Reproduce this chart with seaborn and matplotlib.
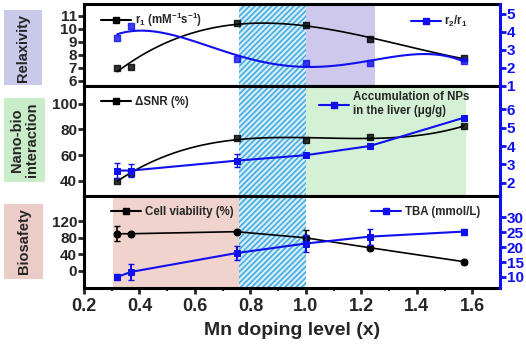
import numpy as np
import pandas as pd
import matplotlib
matplotlib.use('Agg')
import matplotlib.pyplot as plt
from matplotlib.lines import Line2D
from matplotlib.patches import Rectangle
import seaborn as sns

# Data
mn_level = [0.32, 0.37, 0.75, 1.00, 1.23, 1.57]

r1 = [7.0, 7.05, 10.4, 10.3, 9.2, 7.7]
r2_r1 = [3.67, 4.3, 2.5, 2.28, 2.28, 2.35]

dsnr = [40, 46, 73, 72, 74, 82.5]
liver_acc = [2.66, 2.66, 3.2, 3.5, 4.0, 5.55]
liver_err = [0.4, 0.35, 0.35, 0.12, 0.12, 0.12]

viability = [90, 90, 95, 80, 56, 22]
viability_err = [18, 4, 4, 18, 6, 5]
tba = [10.0, 11.7, 18.0, 21.2, 23.5, 25.2]
tba_err = [1.0, 2.7, 2.3, 3.0, 2.7, 1.0]

BLUE = '#1010ee'
HATCH = '#45aee0'

sns.set_theme(style='white')
plt.rcParams['font.family'] = ['Liberation Sans', 'DejaVu Sans']
plt.rcParams['font.weight'] = 'bold'
plt.rcParams['hatch.linewidth'] = 1.2

fig = plt.figure(figsize=(5.26, 3.49), dpi=100)
gs = fig.add_gridspec(3, 1, height_ratios=[82, 111, 92], hspace=0,
                      left=84 / 526, right=500 / 526, top=1 - 4 / 349, bottom=1 - 288 / 349)
axes = [fig.add_subplot(gs[i]) for i in range(3)]
for a in axes[1:]:
    a.sharex(axes[0])
twins = [a.twinx() for a in axes]

df = pd.DataFrame({'x': mn_level, 'r1': r1, 'r2r1': r2_r1, 'dsnr': dsnr,
                   'acc': liver_acc, 'via': viability, 'tba': tba})


def style_axes(ax, tw):
    ax.set_xlim(0.2, 1.7)
    for s in ['left', 'top', 'bottom']:
        ax.spines[s].set_color('black')
        ax.spines[s].set_linewidth(2.2)
    ax.spines['right'].set_visible(False)
    tw.spines['left'].set_visible(False)
    tw.spines['top'].set_visible(False)
    tw.spines['bottom'].set_visible(False)
    tw.spines['right'].set_color(BLUE)
    tw.spines['right'].set_linewidth(2.2)
    ax.tick_params(axis='y', direction='out', length=4, width=2, left=True,
                   labelsize=11, pad=1)
    tw.tick_params(axis='y', direction='out', length=4, width=2, right=True,
                   colors=BLUE, labelsize=11, pad=1)
    for t in ax.get_yticklabels() + tw.get_yticklabels():
        t.set_fontweight('bold')
    ax.set_xlabel('')
    ax.set_ylabel('')
    tw.set_ylabel('')


# shaded regions
for ax in axes:
    ax.axvspan(0.76, 1.0, facecolor='#d6edf8', edgecolor=HATCH, hatch='//////',
               linewidth=0, zorder=0)
axes[0].axvspan(1.0, 1.248, facecolor='#cdc8ec', linewidth=0, zorder=0)
axes[1].axvspan(1.0, 1.578, facecolor='#d5f1d5', linewidth=0, zorder=0)
axes[2].axvspan(0.304, 0.76, facecolor='#f1d3cd', linewidth=0, zorder=0)

# --- Relaxivity ---
ax, tw = axes[0], twins[0]
sns.regplot(data=df, x='x', y='r1', order=3, ci=None, ax=ax, color='black',
            marker='s', scatter_kws={'s': 22, 'zorder': 3}, line_kws={'lw': 1.2})
sns.regplot(data=df, x='x', y='r2r1', order=4, ci=None, ax=tw, color=BLUE,
            marker='s', scatter_kws={'s': 22, 'zorder': 3}, line_kws={'lw': 1.5})
ax.set_ylim(5.6, 11.9)
ax.set_yticks([6, 7, 8, 9, 10, 11])
tw.set_ylim(1.0, 5.55)
tw.set_yticks([1, 2, 3, 4, 5])

# --- Nano-bio interaction ---
ax, tw = axes[1], twins[1]
sns.regplot(data=df, x='x', y='dsnr', order=3, ci=None, ax=ax, color='black',
            marker='s', scatter_kws={'s': 22, 'zorder': 3}, line_kws={'lw': 1.2})
sns.lineplot(data=df, x='x', y='acc', ax=tw, color=BLUE, marker='s', markersize=5,
             markeredgecolor=BLUE, lw=1.5)
tw.errorbar(mn_level, liver_acc, yerr=liver_err, fmt='none', ecolor=BLUE,
            elinewidth=1, capsize=2)
ax.set_ylim(28, 114)
ax.set_yticks([40, 60, 80, 100])
tw.set_ylim(1.25, 7.3)
tw.set_yticks([2, 3, 4, 5, 6])

# --- Biosafety ---
ax, tw = axes[2], twins[2]
sns.lineplot(data=df, x='x', y='via', ax=ax, color='black', marker='o', markersize=5,
             markeredgecolor='black', lw=1.2)
ax.errorbar(mn_level, viability, yerr=viability_err, fmt='none', ecolor='black',
            elinewidth=1.2, capsize=2)
sns.lineplot(data=df, x='x', y='tba', ax=tw, color=BLUE, marker='s', markersize=5,
             markeredgecolor=BLUE, lw=1.5)
tw.errorbar(mn_level, tba, yerr=tba_err, fmt='none', ecolor=BLUE,
            elinewidth=1.5, capsize=2)
ax.set_ylim(-42, 181)
ax.set_yticks([0, 40, 80, 120])
tw.set_ylim(6.3, 37)
tw.set_yticks([10, 15, 20, 25, 30])

for ax, tw in zip(axes, twins):
    style_axes(ax, tw)

for ax in axes[:2]:
    ax.tick_params(axis='x', bottom=False, labelbottom=False)
ax = axes[2]
ax.set_xticks([0.2, 0.4, 0.6, 0.8, 1.0, 1.2, 1.4, 1.6])
ax.set_xticks(np.arange(0.3, 1.7, 0.2), minor=True)
ax.tick_params(axis='x', which='major', direction='out', length=4, width=2,
               bottom=True, labelsize=13, pad=3)
ax.tick_params(axis='x', which='minor', direction='out', length=2.5, width=1.5,
               bottom=True)
for t in ax.get_xticklabels():
    t.set_fontweight('bold')
ax.set_xlabel('Mn doping level (x)', fontsize=14, fontweight='bold', labelpad=5)


# legends
def handle(c, m='s'):
    return Line2D([], [], color=c, marker=m, markersize=4.5, lw=1.5)


leg_kw = dict(frameon=False, handlelength=2.6, handletextpad=0.3,
              borderaxespad=0, prop={'weight': 'bold', 'size': 8.3})
axes[0].legend([handle('black')], [r'r$_\mathregular{1}$ (mM$^\mathregular{-1}$s$^\mathregular{-1}$)'],
               loc='upper left', bbox_to_anchor=(0.03, 0.97), **leg_kw)
twins[0].legend([handle(BLUE)], [r'r$_\mathregular{2}$/r$_\mathregular{1}$'],
                loc='upper left', bbox_to_anchor=(0.775, 0.93), **leg_kw)
axes[1].legend([handle('black')], [u'\u0394SNR (%)'],
               loc='upper left', bbox_to_anchor=(0.03, 0.95), **leg_kw)
twins[1].legend([handle(BLUE)], ['Accumulation of NPs\nin the liver (\u03bcg/g)'],
                loc='upper left', bbox_to_anchor=(0.555, 0.99), **leg_kw)
axes[2].legend([handle('black')], ['Cell viability (%)'],
               loc='upper left', bbox_to_anchor=(0.055, 0.94), **leg_kw)
twins[2].legend([handle(BLUE)], ['TBA (mmol/L)'],
                loc='upper left', bbox_to_anchor=(0.68, 0.94), **leg_kw)

# side category labels
boxes = [('Relaxivity', 4, 10, 42, 85, '#c9c9ea'),
         ('Nano-bio\ninteraction', 4, 98, 45, 182, '#c9ecc9'),
         ('Biosafety', 4, 204, 43, 279, '#ecccc6')]
W, H = 526, 349
for label, x0, y0, x1, y1, col in boxes:
    fig.add_artist(Rectangle((x0 / W, 1 - y1 / H), (x1 - x0) / W, (y1 - y0) / H,
                             transform=fig.transFigure, facecolor=col, edgecolor='none'))
    fig.text((x0 + x1) / 2 / W, 1 - (y0 + y1) / 2 / H, label, rotation=90,
             ha='center', va='center', fontsize=10.5, fontweight='bold',
             linespacing=1.1)

fig.savefig('out.png', dpi=100)
